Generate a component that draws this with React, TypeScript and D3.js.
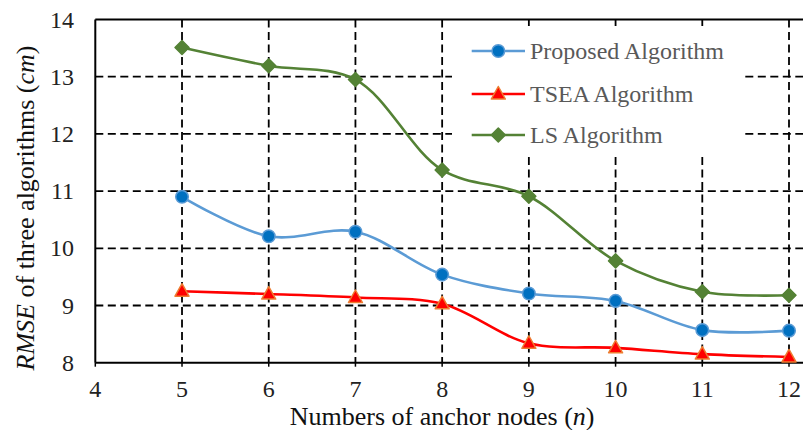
import React from 'react';
import * as d3 from 'd3';

const anchors = [5, 6, 7, 8, 9, 10, 11, 12];
const proposed = [10.9, 10.21, 10.29, 9.54, 9.21, 9.08, 8.57, 8.56];
const tsea = [9.25, 9.2, 9.14, 9.03, 8.34, 8.26, 8.15, 8.1];
const ls = [13.51, 13.19, 12.95, 11.37, 10.91, 9.78, 9.24, 9.18];
const xTicks = [4, 5, 6, 7, 8, 9, 10, 11, 12];
const yTicks = [8, 9, 10, 11, 12, 13, 14];
const seriesNames = ['Proposed Algorithm', 'TSEA Algorithm', 'LS Algorithm'];

const width = 803;
const height = 430;
const left = 95.3;
const right = 803;
const top = 19.5;
const bottom = 362.7;
const serif = { fontFamily: 'Liberation Serif' };

const x = d3.scaleLinear().domain([4, 12]).range([left, 789]);
const y = d3.scaleLinear().domain([8, 14]).range([bottom, top]);

const line = d3
  .line<[number, number]>()
  .x(d => x(d[0]))
  .y(d => y(d[1]))
  .curve(d3.curveCatmullRom.alpha(0.5));

const series = [
  { name: seriesNames[0], values: proposed, line: '#5B9BD5', fill: '#0070C0', stroke: '#5B9BD5', shape: 'circle' },
  { name: seriesNames[1], values: tsea, line: '#FF0000', fill: '#FF0000', stroke: '#ED7D31', shape: 'triangle' },
  { name: seriesNames[2], values: ls, line: '#548235', fill: '#548235', stroke: '#548235', shape: 'diamond' },
];

function Marker({ shape, cx, cy, fill, stroke }: any) {
  if (shape === 'circle') {
    return <circle cx={cx} cy={cy} r={6.3} fill={fill} stroke={stroke} strokeWidth={1.5} />;
  }
  // triangle: equilateral, diamond: square rotated 45deg
  const path = shape === 'triangle' ? 'M0,-7.5L7,5L-7,5Z' : 'M0,-7L7,0L0,7L-7,0Z';
  return (
    <path
      d={path}
      transform={`translate(${cx},${cy})`}
      fill={fill}
      stroke={stroke}
      strokeWidth={1.5}
      strokeLinejoin="round"
    />
  );
}

export default function App() {
  const legendX = 452;
  const legendY = 26;
  const rowY = [51, 94, 135];

  return (
    <svg width={width} height={height} style={{ position: 'absolute', left: 0, top: 0, background: '#fff' }}>
      <defs>
        <clipPath id="plotClip">
          <rect x={left} y={top - 10} width={right - left} height={bottom - top + 20} />
        </clipPath>
      </defs>
      <rect width={width} height={height} fill="#fff" />

      {/* grid */}
      {yTicks.slice(1, -1).map(t => (
        <line key={'h' + t} x1={left} x2={right} y1={y(t)} y2={y(t)} stroke="#000" strokeWidth={1.8} strokeDasharray="8,4.5" />
      ))}
      {xTicks.slice(1).map(t => (
        <line key={'v' + t} x1={x(t)} x2={x(t)} y1={top} y2={bottom} stroke="#000" strokeWidth={1.8} strokeDasharray="8,4.5" />
      ))}

      {/* axes */}
      <line x1={left} x2={right} y1={top} y2={top} stroke="#000" strokeWidth={2} />
      <line x1={left} x2={left} y1={top} y2={bottom} stroke="#000" strokeWidth={2} />
      <line x1={left} x2={right} y1={bottom} y2={bottom} stroke="#000" strokeWidth={2} />
      {xTicks.map(t => (
        <line key={'xt' + t} x1={x(t)} x2={x(t)} y1={bottom} y2={bottom + 4} stroke="#000" strokeWidth={1.5} />
      ))}

      {/* tick labels */}
      {xTicks.map(t => (
        <text key={'xl' + t} x={x(t)} y={397} fontSize={24} textAnchor="middle" fill="#222" style={serif}>
          {t}
        </text>
      ))}
      {yTicks.map(t => (
        <text key={'yl' + t} x={74} y={y(t) + 8} fontSize={24} textAnchor="end" fill="#222" style={serif}>
          {t}
        </text>
      ))}

      {/* axis titles */}
      <text x={(left + 789) / 2} y={425} fontSize={26} textAnchor="middle" fill="#111" style={serif}>
        Numbers of anchor nodes (<tspan fontStyle="italic">n</tspan>)
      </text>
      <text transform="translate(34,208) rotate(-90)" fontSize={26} textAnchor="middle" fill="#111" style={serif}>
        <tspan fontStyle="italic">RMSE</tspan> of three algorithms (<tspan fontStyle="italic">cm</tspan>)
      </text>

      {/* series */}
      <g clipPath="url(#plotClip)">
        {series.map(s => (
          <path
            key={s.name}
            d={line(anchors.map((a, i) => [a, s.values[i]] as [number, number])) || ''}
            fill="none"
            stroke={s.line}
            strokeWidth={2.6}
          />
        ))}
        {series.map(s =>
          anchors.map((a, i) => (
            <Marker key={s.name + a} shape={s.shape} cx={x(a)} cy={y(s.values[i])} fill={s.fill} stroke={s.stroke} />
          ))
        )}
      </g>

      {/* legend */}
      <rect x={legendX} y={legendY} width={293} height={128} fill="#fff" />
      {series.map((s, i) => (
        <g key={'lg' + s.name}>
          <line x1={471.7} x2={525} y1={rowY[i]} y2={rowY[i]} stroke={s.line} strokeWidth={2.6} />
          <Marker shape={s.shape} cx={498.3} cy={rowY[i]} fill={s.fill} stroke={s.stroke} />
          <text x={530} y={rowY[i] + 8} fontSize={24} fill="#595959" style={serif}>
            {s.name}
          </text>
        </g>
      ))}
    </svg>
  );
}
